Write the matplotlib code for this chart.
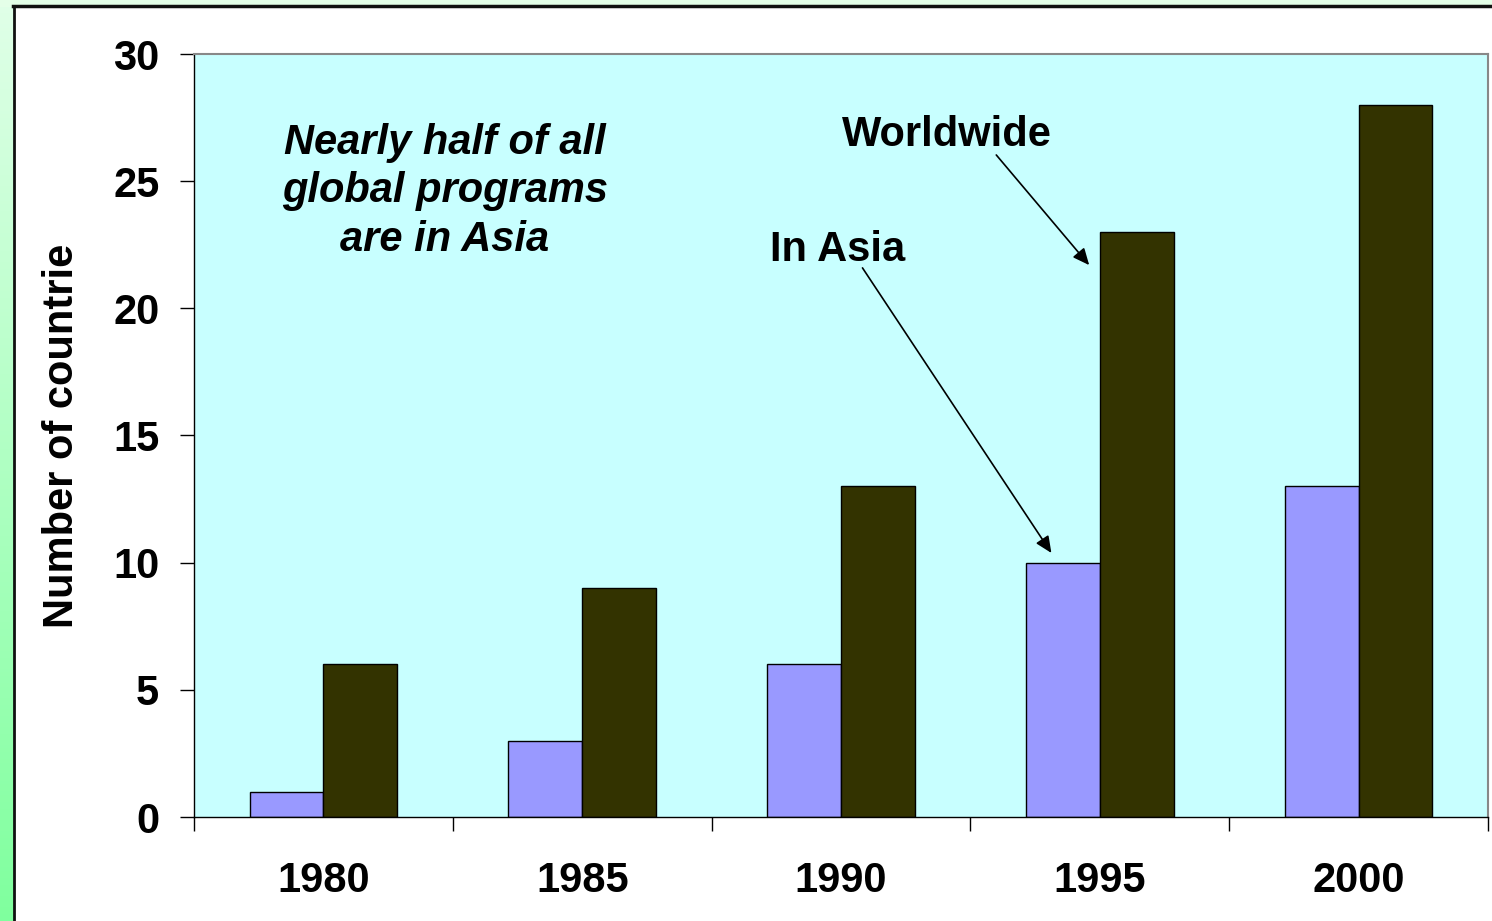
import numpy as np
import matplotlib.pyplot as plt
from matplotlib.patches import Rectangle

plt.rcParams['font.family'] = ['Liberation Sans', 'DejaVu Sans']

years = ['1980', '1985', '1990', '1995', '2000']
in_asia = [1, 3, 6, 10, 13]
worldwide = [6, 9, 13, 23, 28]

W, H = 1492, 921
fig = plt.figure(figsize=(W / 100, H / 100), dpi=100)
fig.patch.set_facecolor('white')

# green slide background strips (left gradient, top)
grad = np.linspace(0, 1, 256).reshape(-1, 1)
bg = fig.add_axes([0, 0, 14 / W, 1])
top_c = np.array([0.88, 1.0, 0.91])
bot_c = np.array([0.50, 1.0, 0.62])
img = top_c[None, None, :] * (1 - grad[:, :, None]) + bot_c[None, None, :] * grad[:, :, None]
bg.imshow(img, aspect='auto', extent=[0, 1, 0, 1])
bg.axis('off')
fig.patches.append(Rectangle((0, 1 - 7 / H), 1, 7 / H, transform=fig.transFigure,
                             facecolor='#e4ffe8', edgecolor='none', zorder=0))
fig.lines.append(plt.Line2D([13.5 / W, 13.5 / W], [0, 1 - 6 / H], transform=fig.transFigure,
                            color='#111111', lw=2))
fig.lines.append(plt.Line2D([13 / W, 1], [1 - 6.5 / H, 1 - 6.5 / H], transform=fig.transFigure,
                            color='#111111', lw=2.5))

ax = fig.add_axes([194 / W, 104 / H, 1294 / W, 763 / H])
ax.set_facecolor('#c8ffff')

fs = 30

x = np.arange(len(years))
bw = 0.285
ax.bar(x - bw / 2, in_asia, bw, color='#9999ff', edgecolor='black', linewidth=1)
ax.bar(x + bw / 2, worldwide, bw, color='#333300', edgecolor='black', linewidth=1)

ax.set_xlim(-0.5, len(years) - 0.5)
ax.set_ylim(0, 30)
ax.set_yticks([0, 5, 10, 15, 20, 25, 30])
ax.set_xticks(x)
ax.set_xticklabels(years, fontsize=fs, fontweight='bold')
ax.set_xticks(np.arange(-0.5, len(years)), minor=True)
ax.tick_params(axis='x', which='major', length=0, pad=32)
ax.tick_params(axis='x', which='minor', length=10, width=1, direction='out')
ax.tick_params(axis='y', length=10, width=1, pad=15, labelsize=fs)
for t in ax.get_yticklabels():
    t.set_fontweight('bold')

for s in ['top', 'right']:
    ax.spines[s].set_color('#888888')
    ax.spines[s].set_linewidth(1.5)
for s in ['left', 'bottom']:
    ax.spines[s].set_color('black')
    ax.spines[s].set_linewidth(1)

ax.set_ylabel('Number of countrie', fontsize=fs, fontweight='bold', labelpad=22)

ax.text(0.469, 24.6, 'Nearly half of all\nglobal programs\nare in Asia', fontsize=fs,
        fontweight='bold', style='italic', ha='center', va='center', linespacing=1.27)

arrow = dict(arrowstyle='-|>,head_length=1.0,head_width=0.45', color='black', lw=1.2,
             shrinkA=0, shrinkB=0)
ax.annotate('', xy=(2.959, 21.7), xytext=(2.60, 26.03), arrowprops=arrow)
ax.text(2.41, 26.8, 'Worldwide', fontsize=fs, fontweight='bold', ha='center', va='center')
ax.annotate('', xy=(2.813, 10.38), xytext=(2.083, 21.59), arrowprops=arrow)
ax.text(1.986, 22.3, 'In Asia', fontsize=fs, fontweight='bold', ha='center', va='center')

fig.savefig('out.png', dpi=100, facecolor=fig.get_facecolor())
